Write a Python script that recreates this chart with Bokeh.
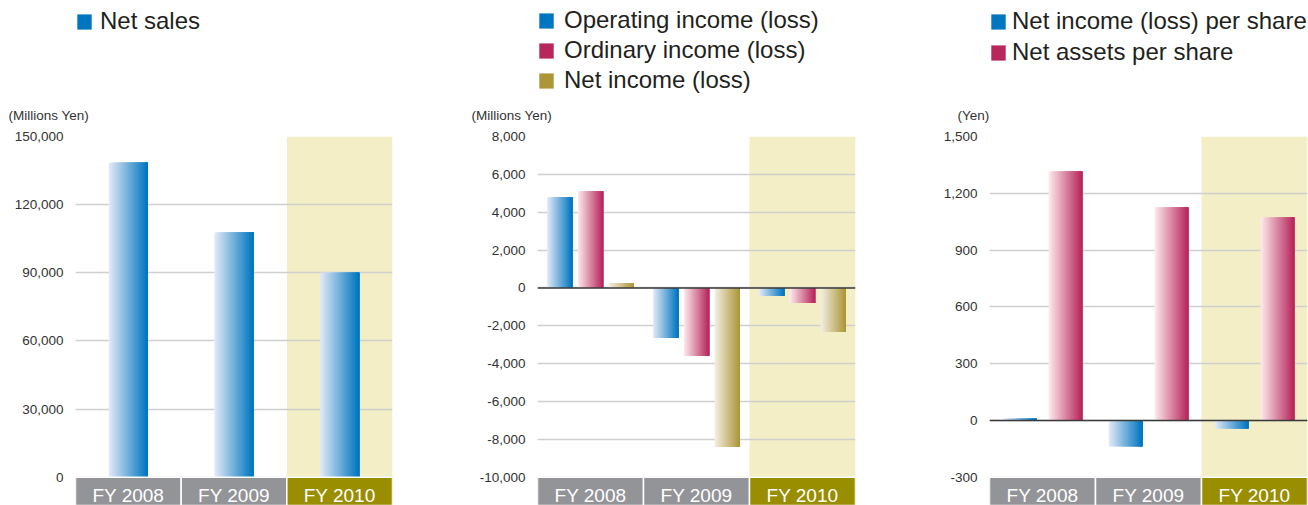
from bokeh.plotting import figure
from bokeh.models import (FactorRange, Range1d, FixedTicker, NumeralTickFormatter,
                          ColumnDataSource, Legend, LegendItem, Label, Span)
from bokeh.layouts import row, column
from bokeh.core.properties import value
from bokeh.embed import file_html
from bokeh.resources import INLINE

# ---------------- data ----------------
years = ["FY 2008", "FY 2009", "FY 2010"]

net_sales = [138400, 107700, 90000]

operating_income = [4790, -2640, -420]
ordinary_income = [5110, -3590, -790]
net_income = [250, -8400, -2320]

net_income_per_share = [9, -136, -42]
net_assets_per_share = [1315, 1125, 1072]

ticks_sales = [0, 30000, 60000, 90000, 120000, 150000]
ticks_income = [-10000, -8000, -6000, -4000, -2000, 0, 2000, 4000, 6000, 8000]
ticks_share = [-300, 0, 300, 600, 900, 1200, 1500]

units_sales = "(Millions Yen)"
units_income = "(Millions Yen)"
units_share = "(Yen)"

# ---------------- styles ----------------
FONT = "Liberation Sans"
BLUE = ((224, 232, 246), (0, 118, 192))
PINK = ((252, 232, 234), (184, 38, 92))
GOLD = ((242, 238, 226), (173, 150, 56))
BOX_GRAY = "#939497"
BOX_OLIVE = "#998d00"
HIGHLIGHT = "#f3eec6"
GRID = "#cfcfcf"

PAGE_W = 1308
PAGE_H = 505
HEAD_H = 126          # header strip (legends + units)
CHART_TOP = 10        # border above each chart frame
DATA_PX = 340.7       # pixels from top tick to bottom tick
CHART_H = PAGE_H - HEAD_H
BOX_PX = CHART_H - CHART_TOP - DATA_PX
N_SLICES = 28


def hexcol(c):
    return "#%02x%02x%02x" % tuple(int(round(v)) for v in c)


def grad_source(values, offset, width, cols):
    """Each slice spans from its own left edge to the bar's right edge and the
    slices are drawn left to right, giving a horizontal gradient."""
    c0, c1 = cols
    xs, ws, tops, colors = [], [], [], []
    right = offset + width / 2
    for cat, v in zip(years, values):
        for i in range(N_SLICES):
            t = i / (N_SLICES - 1)
            left = offset - width / 2 + i * width / N_SLICES
            xs.append([cat, (left + right) / 2])
            ws.append(right - left)
            tops.append(v)
            colors.append(hexcol([a + (b - a) * t for a, b in zip(c0, c1)]))
    return ColumnDataSource(dict(x=xs, w=ws, top=tops, color=colors))


def chart(width, left, right, ymin, ymax, ticks, series, zero_line):
    y_start = ymin - BOX_PX / DATA_PX * (ymax - ymin)
    p = figure(width=width, height=CHART_H, x_range=FactorRange(*years, range_padding=0),
               y_range=Range1d(y_start, ymax), output_backend="svg",
               toolbar_location=None, x_axis_location=None,
               min_border_left=left, min_border_right=right,
               min_border_top=CHART_TOP, min_border_bottom=0)
    p.outline_line_color = None
    p.background_fill_color = "white"
    p.border_fill_color = "white"
    p.xgrid.visible = False
    p.ygrid.grid_line_color = GRID
    p.ygrid.grid_line_width = 1.5
    p.ygrid.ticker = FixedTicker(ticks=ticks)

    ax = p.yaxis[0]
    ax.ticker = FixedTicker(ticks=ticks)
    ax.formatter = NumeralTickFormatter(format="0,0")
    ax.axis_line_color = None
    ax.major_tick_line_color = None
    ax.minor_tick_line_color = None
    ax.major_label_standoff = 6
    ax.major_label_text_font = FONT
    ax.major_label_text_font_size = "13.5px"
    ax.major_label_text_color = "#333333"

    # highlighted current year column
    p.vbar(x=[years[-1]], top=[ymax], bottom=[ymin], width=1,
           fill_color=HIGHLIGHT, line_color=None, level="underlay")

    for vals, off, w, cols, label in series:
        src = grad_source(vals, off, w, cols)
        p.vbar(x="x", top="top", bottom=0, width="w",
               source=src, fill_color="color", line_color=None)

    # category boxes
    p.vbar(x=years, top=[ymin] * 3, bottom=[y_start] * 3, width=1,
           fill_color=[BOX_GRAY, BOX_GRAY, BOX_OLIVE], line_color="white", line_width=1.5)
    p.text(x=years, y=[(ymin + y_start) / 2] * 3, text=years, text_align="center",
           text_baseline="middle", text_color="white", text_font=value(FONT),
           text_font_size="19px", y_offset=4)

    if zero_line:
        p.add_layout(Span(location=0, dimension="width", line_color="#3a3a3a",
                          line_width=1.5))
    return p


s1 = [(net_sales, 0.0, 0.37, BLUE, "Net sales")]
s2 = [(operating_income, -0.29, 0.238, BLUE, "Operating income (loss)"),
      (ordinary_income, 0.0, 0.238, PINK, "Ordinary income (loss)"),
      (net_income, 0.29, 0.238, GOLD, "Net income (loss)")]
s3 = [(net_income_per_share, -0.216, 0.317, BLUE, "Net income (loss) per share"),
      (net_assets_per_share, 0.216, 0.317, PINK, "Net assets per share")]

# ---------------- header strip: legends and unit labels ----------------
head = figure(width=PAGE_W, height=HEAD_H, x_range=Range1d(0, 1), y_range=Range1d(0, 1),
              output_backend="svg", toolbar_location=None,
              x_axis_location=None, y_axis_location=None,
              min_border_left=0, min_border_right=0, min_border_top=0, min_border_bottom=0)
head.outline_line_color = None
head.xgrid.visible = False
head.ygrid.visible = False
head.background_fill_color = "white"

nan = float("nan")
for series, units, units_x, leg_x, leg_top, standoff, spacing in [
        (s1, units_sales, 8, 75, 9, 7, 3),
        (s2, units_income, 471, 537, 12, 9, 2),
        (s3, units_share, 957, 989, 11, 5, 3)]:
    items = []
    for _, _, _, cols, label in series:
        # legend swatch proxy (draws no visible mark)
        r = head.vbar(x=[nan], top=[nan], width=1,
                      fill_color=hexcol(cols[1]), line_color=None)
        items.append(LegendItem(label=label, renderers=[r]))
    item_h = 26
    leg_h = item_h * len(items) + spacing * (len(items) - 1)
    head.add_layout(Legend(items=items, location=(leg_x, HEAD_H - leg_top - leg_h),
                           orientation="vertical", padding=0, margin=0, spacing=spacing,
                           glyph_width=18, glyph_height=19, label_standoff=standoff,
                           label_height=item_h,
                           label_text_font=FONT, label_text_font_size="24px",
                           label_text_color="#231f20", border_line_color=None,
                           background_fill_alpha=0))
    head.add_layout(Label(x=units_x, y=HEAD_H - 115, x_units="screen", y_units="screen",
                          text=units, text_font=FONT, text_font_size="13.5px",
                          text_color="#333333", text_baseline="middle"))

p1 = chart(400, 75, 8, 0, 150000, ticks_sales, s1, False)
p2 = chart(462, 137, 7, -10000, 8000, ticks_income, s2, True)
p3 = chart(446, 127, 1, -300, 1500, ticks_share, s3, True)

layout = column(head, row(p1, p2, p3, spacing=0), spacing=0)
open("out.html", "w").write(file_html(layout, INLINE))
